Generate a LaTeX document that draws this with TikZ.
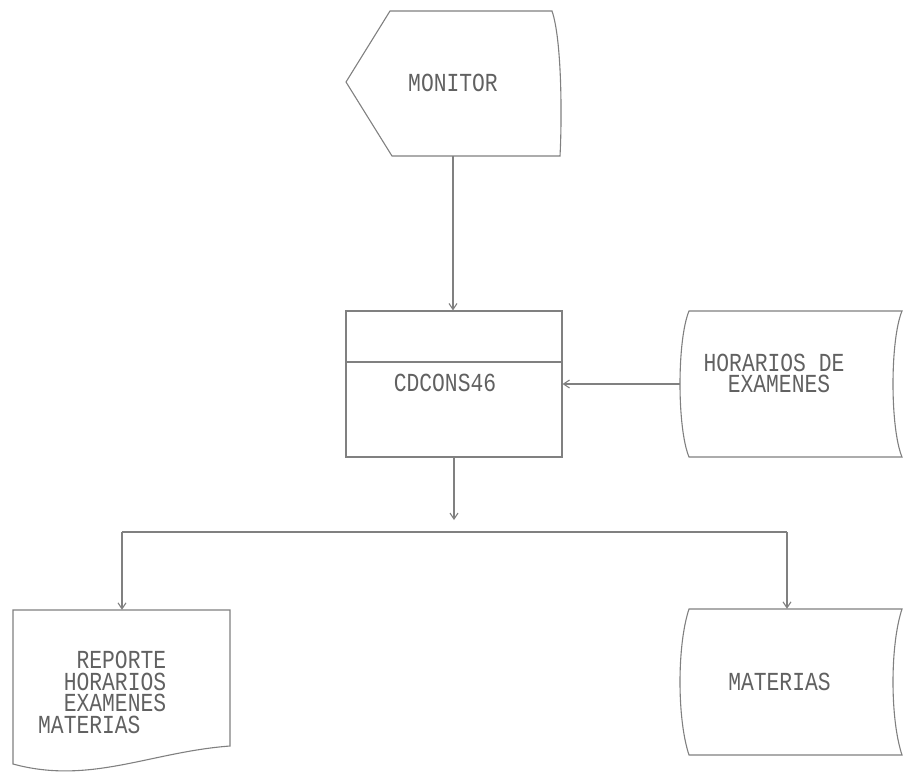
\documentclass[tikz,border=0pt]{standalone}
\usepackage{fontspec}
\newfontfamily\dotfont[FakeStretch=0.82]{Liberation Mono}
\usetikzlibrary{arrows.meta}
\begin{document}
\begin{tikzpicture}[x=1pt,y=-1pt,
  line/.style={draw=black!50, line width=1.1pt},
  arrow/.style={line, -{Straight Barb[length=6pt,width=8pt]}},
  lbl/.style={font=\dotfont\fontsize{26}{26}\selectfont, text=black!62, inner sep=0pt},
  lbll/.style={lbl, anchor=west},
  area/.style={inner sep=0pt, draw=none}
]
\useasboundingbox (0,0) rectangle (903,777);

% areas (for connectors)
\node[area, minimum width=214pt, minimum height=145pt] (mon) at (453,83.5) {};
\node[area, line, minimum width=216pt, minimum height=146pt] (proc) at (454,384) {};
\node[area, minimum width=222pt, minimum height=146pt] (hor) at (791,384) {};
\node[area, minimum width=222pt, minimum height=146pt] (mat) at (791,682) {};
\node[area, minimum width=217pt, minimum height=160pt] (doc) at (121.5,690) {};

% outlines
\draw[line] (390,11) -- (552,11) .. controls (562,40) and (562,120) .. (560,156) -- (392,156) -- (346,82) -- cycle;
\draw[line] (346,362) -- (562,362);
\draw[line] (689,311) -- (902,311) .. controls (890,340) and (890,428) .. (902,457) -- (689,457) .. controls (677,428) and (677,340) .. (689,311) -- cycle;
\draw[line] (689,609) -- (902,609) .. controls (890,645) and (890,719) .. (902,755) -- (689,755) .. controls (677,719) and (677,645) .. (689,609) -- cycle;
\draw[line] (13,610) -- (230,610) -- (230,746) .. controls (150,752) and (90,785) .. (13,764) -- cycle;

% texts
\node[lbl] (montxt) at (453,83) {MONITOR};
\node[lbl] (proctxt) at (445,383) {CDCONS46};
\node[lbl] (hortxta) at (774,363) {HORARIOS DE};
\node[lbl] (hortxtb) at (779,384) {EXAMENES};
\node[lbl] (mattxt) at (779.5,682) {MATERIAS};
\node[lbll] (doctxta) at (76.4,660) {REPORTE};
\node[lbll] (doctxtb) at (63.6,681.7) {HORARIOS};
\node[lbll] (doctxtc) at (63.6,703.4) {EXAMENES};
\node[lbll] (doctxtd) at (38,725.1) {MATERIAS};

% connectors
\draw[arrow] (mon.south) -- (mon.south |- proc.north);
\draw[arrow] (hor.west) -- (proc.east);
\coordinate (split) at (454,520);
\draw[arrow] (proc.south) -- (split);
\coordinate (busL) at (122,532);
\coordinate (busR) at (787,532);
\draw[line] (busL) -- (busR);
\draw[arrow] (busL) -- (busL |- doc.north);
\draw[arrow] (busR) -- (busR |- mat.north);
\end{tikzpicture}
\end{document}
